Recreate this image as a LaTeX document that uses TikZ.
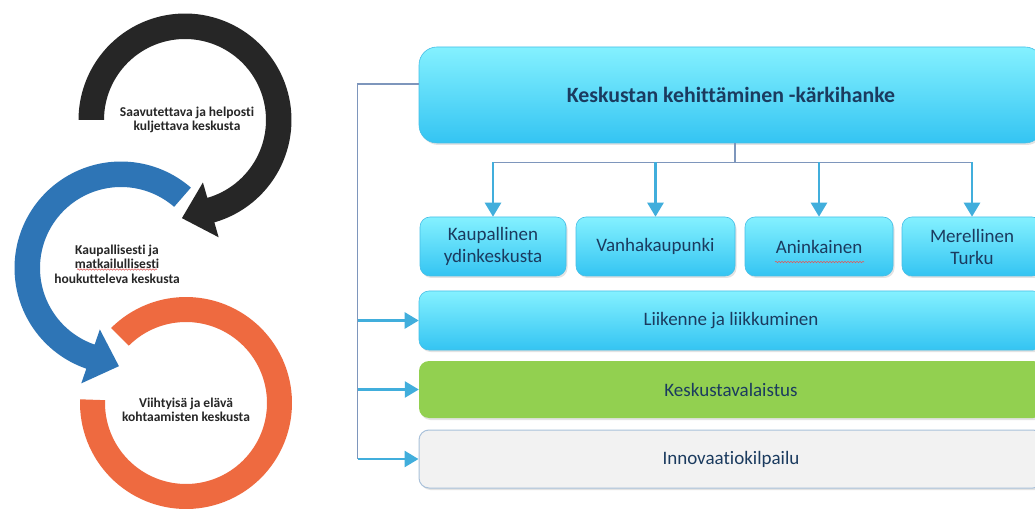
\documentclass[tikz,border=0pt]{standalone}
\usepackage{fontspec}
\setmainfont{Carlito}[Ligatures=CommonOff]
\usetikzlibrary{arrows.meta,shadows,calc,decorations.pathmorphing}
\definecolor{ringblack}{HTML}{262626}
\definecolor{ringblue}{HTML}{2E75B6}
\definecolor{ringorange}{HTML}{EE6A40}
\definecolor{cyantop}{RGB}{132,241,255}
\definecolor{cyanbot}{RGB}{52,196,242}
\definecolor{cyanedge}{RGB}{70,190,230}
\definecolor{boxgreen}{HTML}{92D050}
\definecolor{boxgray}{HTML}{F2F2F2}
\definecolor{grayedge}{HTML}{A9C1DA}
\definecolor{boxtext}{HTML}{1B3B5F}
\definecolor{linegray}{HTML}{7E96BC}
\definecolor{arrowblue}{HTML}{41AEDC}
\definecolor{spellred}{HTML}{E05A5A}
\tikzset{
  ringtext/.style={align=center, text=ringblack, inner sep=0pt,
    font=\bfseries\fontsize{13.5}{14.5}\selectfont},
  boxbase/.style={rectangle, rounded corners=10pt, text=boxtext, align=center,
    inner sep=2pt, drop shadow={opacity=0.22, shadow xshift=1.5pt, shadow yshift=-2pt},
    font=\fontsize{19}{22}\selectfont},
  cbox/.style={boxbase, top color=cyantop, bottom color=cyanbot, draw=cyanedge, line width=0.6pt},
  subbox/.style={minimum height=59pt},
  widebox/.style={minimum width=624pt},
  conn/.style={draw=linegray, line width=1.1pt},
  arr/.style={draw=arrowblue, line width=2.6pt, -{Triangle[length=14pt,width=16pt]}},
  spell/.style={draw=spellred, line width=0.6pt, decorate,
    decoration={snake, amplitude=0.7pt, segment length=3pt}}
}
\begin{document}
\begin{tikzpicture}[x=1pt,y=-1pt]
\useasboundingbox (0,0) rectangle (1035,510);
\clip (0,0) rectangle (1035,510);
\fill[white] (0,0) rectangle (1035,510);

% ---- circular arrows (left) ----
% black: centre (185,120)
\fill[ringblack]
  plot[domain=180:434,samples=90,variable=\t] ({185+106.5*cos(\t)},{120+106.5*sin(\t)})
  -- ({185+122*cos(434)},{120+122*sin(434)})
  -- ({185+93.5*cos(434)+30*cos(524)},{120+93.5*sin(434)+30*sin(524)})
  -- ({185+65*cos(434)},{120+65*sin(434)})
  -- plot[domain=434:180,samples=90,variable=\t] ({185+81*cos(\t)},{120+81*sin(\t)})
  -- cycle;
% blue: centre (121,268)
\fill[ringblue]
  plot[domain=-49:-251,samples=90,variable=\t] ({121+106.5*cos(\t)},{268+106.5*sin(\t)})
  -- ({121+122*cos(-251)},{268+122*sin(-251)})
  -- ({121+93.5*cos(-251)+30*cos(-341)},{268+93.5*sin(-251)+30*sin(-341)})
  -- ({121+65*cos(-251)},{268+65*sin(-251)})
  -- plot[domain=-251:-49,samples=90,variable=\t] ({121+81*cos(\t)},{268+81*sin(\t)})
  -- cycle;
% orange: centre (186,403)
\fill[ringorange]
  plot[domain=-135:182,samples=110,variable=\t] ({186+106*cos(\t)},{403+106*sin(\t)})
  -- plot[domain=182:-135,samples=110,variable=\t] ({186+81*cos(\t)},{403+81*sin(\t)})
  -- cycle;

\node[ringtext] (t1) at (187,120) {Saavutettava ja helposti\\kuljettava keskusta};
\node[ringtext] (t2) at (117,264) {Kaupallisesti ja\\matkailullisesti\\houkutteleva keskusta};
\node[ringtext] (t3) at (186,410) {Viihtyisä ja elävä\\kohtaamisten keskusta};
\draw[spell] (77,269.5) -- (157,269.5);

% ---- boxes (right) ----
\node[cbox, widebox, minimum height=96pt, rounded corners=18pt,
      font=\bfseries\fontsize{21.8}{24}\selectfont] (head) at (731,95) {Keskustan kehittäminen -kärkihanke};

\node[cbox, subbox, minimum width=146pt] (b1) at (493,246.5) {Kaupallinen\\ydinkeskusta};
\node[cbox, subbox, minimum width=159pt] (b2) at (655.5,246.5) {Vanhakaupunki};
\node[cbox, subbox, minimum width=148pt] (b3) at (819,246.5) {Aninkainen};
\node[cbox, subbox, minimum width=140pt] (b4) at (972,246.5) {Merellinen\\Turku};
\draw[spell] (775,262) -- (864,262);

\node[cbox, widebox, minimum height=59pt] (lii) at (731,320.5) {Liikenne ja liikkuminen};
\node[boxbase, widebox, fill=boxgreen, minimum height=57pt] (val) at (731,389.5) {Keskustavalaistus};
\node[boxbase, widebox, fill=boxgray, draw=grayedge, line width=1pt, minimum height=58pt] (inn) at (731,459) {Innovaatiokilpailu};

% ---- connectors ----
\draw[conn] ([xshift=4pt]head.south) -- ++(0,19) coordinate (hb);
\draw[conn] (hb -| b1.north) -- (hb -| b4.north);
\foreach \b in {b1,b2,b3,b4} \draw[arr] (hb -| \b.north) -- (\b.north);

\draw[conn] ([yshift=11pt]head.west) -- ++(-61,0) coordinate (vl) -- (vl |- inn.west);
\foreach \b in {lii,val,inn} \draw[arr] (vl |- \b.west) -- (\b.west);
\end{tikzpicture}
\end{document}
